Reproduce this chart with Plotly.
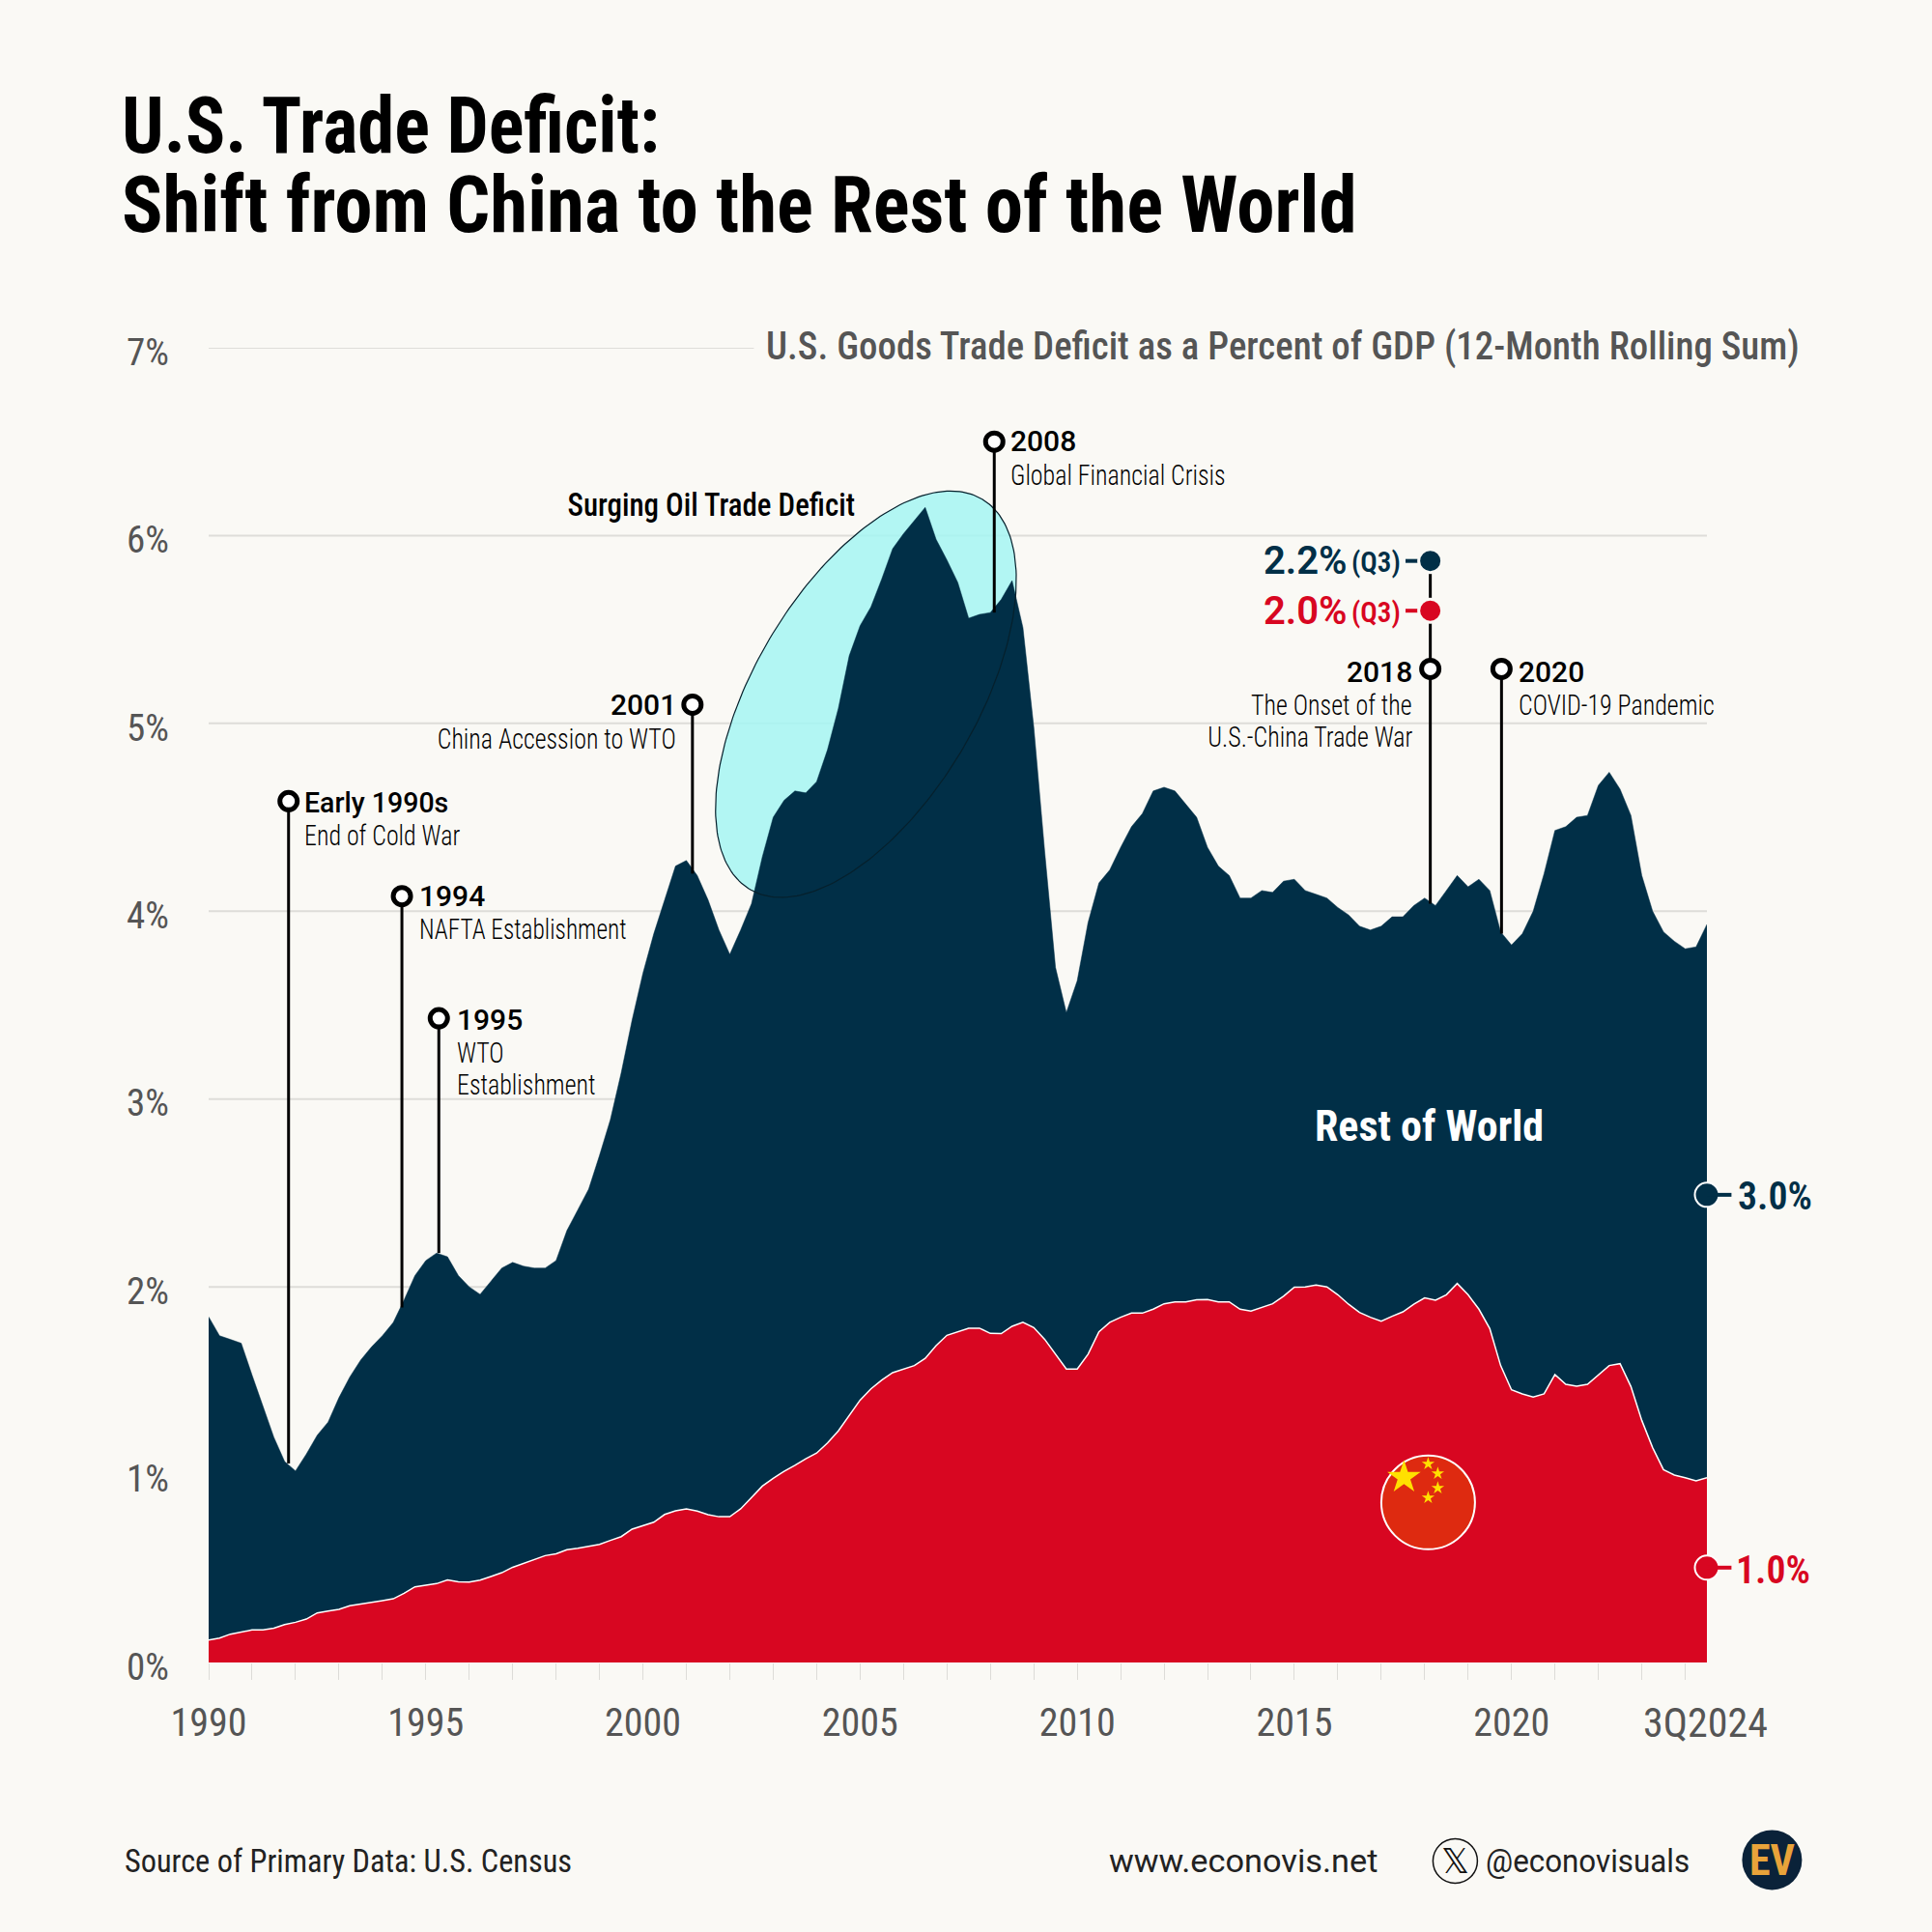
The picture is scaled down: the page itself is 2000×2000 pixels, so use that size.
import json
import numpy as np
import plotly.graph_objects as go

# ---------- data (quarterly, 1990 Q1 .. 2024 Q3, % of GDP) ----------
total = [1.84,1.74,1.72,1.70,1.53,1.37,1.20,1.07,1.02,1.11,1.21,1.28,1.41,1.52,1.61,1.68,
1.74,1.81,1.93,2.06,2.14,2.18,2.16,2.06,2.00,1.96,2.03,2.10,2.13,2.11,2.10,2.10,
2.14,2.30,2.41,2.52,2.70,2.89,3.14,3.42,3.67,3.88,4.06,4.24,4.27,4.19,4.06,3.90,
3.77,3.90,4.04,4.29,4.50,4.59,4.64,4.63,4.69,4.86,5.08,5.36,5.52,5.62,5.77,5.93,
6.01,6.08,6.15,5.98,5.87,5.75,5.56,5.58,5.59,5.66,5.76,5.51,4.98,4.32,3.70,3.46,
3.63,3.94,4.15,4.22,4.34,4.45,4.52,4.64,4.66,4.64,4.57,4.50,4.34,4.24,4.19,4.07,
4.07,4.11,4.10,4.16,4.17,4.11,4.09,4.07,4.02,3.98,3.92,3.90,3.92,3.97,3.97,4.03,
4.07,4.03,4.11,4.19,4.13,4.17,4.11,3.89,3.82,3.88,4.00,4.20,4.43,4.45,4.50,4.51,
4.67,4.74,4.65,4.51,4.19,4.00,3.89,3.84,3.80,3.81,3.93]
china = [0.120,0.130,0.151,0.161,0.173,0.173,0.183,0.202,0.214,0.231,0.264,0.274,0.283,0.302,0.310,0.319,
0.329,0.339,0.368,0.403,0.411,0.420,0.440,0.430,0.428,0.439,0.458,0.478,0.507,0.528,0.548,0.569,
0.579,0.600,0.608,0.619,0.629,0.650,0.670,0.710,0.727,0.747,0.788,0.807,0.818,0.806,0.787,0.776,
0.776,0.818,0.878,0.939,0.981,1.018,1.050,1.085,1.115,1.169,1.233,1.318,1.397,1.457,1.504,1.543,
1.562,1.581,1.619,1.687,1.742,1.759,1.780,1.780,1.752,1.751,1.790,1.811,1.783,1.721,1.641,1.562,
1.562,1.641,1.761,1.811,1.838,1.860,1.860,1.881,1.910,1.920,1.920,1.931,1.932,1.920,1.920,1.881,
1.871,1.889,1.910,1.950,1.998,2.000,2.010,2.000,1.958,1.907,1.864,1.838,1.817,1.843,1.867,1.907,
1.941,1.929,1.958,2.018,1.958,1.881,1.778,1.581,1.452,1.430,1.413,1.430,1.533,1.481,1.471,1.481,
1.533,1.581,1.591,1.469,1.289,1.144,1.027,0.998,0.984,0.967,0.984]
assert len(total) == len(china) == 139
quarters = [1990 + i * 0.25 for i in range(len(total))]

y_ticks = [0, 1, 2, 3, 4, 5, 6, 7]
y_tick_text = ["0%", "1%", "2%", "3%", "4%", "5%", "6%", "7%"]
x_tick_years = list(range(1990, 2025))
x_label_years = [1990, 1995, 2000, 2005, 2010, 2015, 2020]

event_years = [1991.84, 1994.45, 1995.30, 2001.14, 2008.09, 2018.13, 2019.77]
event_tops = [4.586, 4.08, 3.43, 5.10, 6.50, 5.29, 5.29]
event_bottoms = [1.06, 1.89, 2.18, 4.20, 5.59, 4.04, 3.88]

NAVY = "#012F47"; RED = "#D80621"; BG = "#FAF9F5"; GRID = "#DEDDD9"; GREY = "#555555"
COND = "Roboto Condensed"; WIDE = "Roboto"

# ---------- geometry (page px) ----------
W = H = 2000
L, R, T, B = 215.6, 1766.6, 360.0, 1720.6
def X(px): return 1990 + (px - L) / (R - L) * 34.5
def Y(py): return (B - py) / (B - T) * 7
def PX(px): return (px - L) / (R - L)
def PY(py): return (B - py) / (B - T)
S = 2000 / 1568

fig = go.Figure()

# ellipse (fill below areas, outline above)
cx, cy, a, b, th = 896, 718.5, 235, 115, np.radians(59.2)
t = np.linspace(0, 2 * np.pi, 240)
ex = cx + a * np.cos(t) * np.cos(th) - b * np.sin(t) * np.sin(th)
ey = cy - a * np.cos(t) * np.sin(th) - b * np.sin(t) * np.cos(th)
fig.add_trace(go.Scatter(x=X(ex), y=Y(ey), mode="lines", fill="toself",
                         fillcolor="rgba(165,246,242,0.85)", line=dict(width=0), hoverinfo="skip"))
fig.add_trace(go.Scatter(x=quarters, y=total, mode="lines", fill="tozeroy", fillcolor=NAVY,
                         line=dict(color=NAVY, width=0.5)))
fig.add_trace(go.Scatter(x=quarters, y=china, mode="lines", fill="tozeroy", fillcolor=RED,
                         line=dict(color="white", width=1.5)))
fig.add_trace(go.Scatter(x=X(ex), y=Y(ey), mode="lines", line=dict(color="#06202c", width=1.2), hoverinfo="skip"))

# event stems
for ex_, top, bot in zip(event_years, event_tops, event_bottoms):
    fig.add_trace(go.Scatter(x=[ex_, ex_], y=[bot, top], mode="lines", line=dict(color="black", width=3)))
fig.add_trace(go.Scatter(x=[event_years[5]] * 2, y=[5.29, 5.865], mode="lines", line=dict(color="black", width=3)))
fig.add_trace(go.Scatter(x=event_years, y=event_tops, mode="markers",
                         marker=dict(size=18, color="white", line=dict(color="black", width=5))))

# value dots
dot_x = [event_years[5], event_years[5]]
dot_y = [5.865, 5.60]
for xx, yy, c in zip(dot_x, dot_y, [NAVY, RED]):
    fig.add_trace(go.Scatter(x=[xx - 0.57, xx], y=[yy, yy], mode="lines", line=dict(color=c, width=4)))
    fig.add_trace(go.Scatter(x=[xx], y=[yy], mode="markers",
                             marker=dict(size=24, color=c, line=dict(color=BG, width=3))))
for yy, c in zip([2.49, 0.505], [NAVY, RED]):
    fig.add_shape(type="line", xref="paper", yref="paper", x0=1.0, x1=PX(1792), y0=yy / 7, y1=yy / 7,
                  line=dict(color=c, width=4))
    fig.add_trace(go.Scatter(x=[2024.5], y=[yy], mode="markers", cliponaxis=False,
                             marker=dict(size=25, color=c, line=dict(color="white", width=2))))

# flag
fig.add_trace(go.Scatter(x=[X(1478)], y=[Y(1555)], mode="markers",
                         marker=dict(size=97, color="#DE2A10", line=dict(color="white", width=2))))
fig.add_trace(go.Scatter(x=[X(1453)], y=[Y(1529)], mode="markers",
                         marker=dict(symbol="star", size=26, color="#FFE000", line=dict(width=0))))
fig.add_trace(go.Scatter(x=X(np.array([1478, 1488, 1488, 1478])), y=Y(np.array([1515, 1525, 1540, 1550])), mode="markers",
                         marker=dict(symbol="star", size=10, color="#FFE000", line=dict(width=0))))

# footer logos
def circle(cxp, cyp, r, **kw):
    fig.add_shape(type="circle", xref="paper", yref="paper", x0=PX(cxp - r), x1=PX(cxp + r),
                  y0=PY(cyp + r), y1=PY(cyp - r), **kw)
circle(1506, 1926, 23, fillcolor=BG, line=dict(color="#111111", width=1.5))
circle(1834, 1925, 31, fillcolor="#0A2239", line=dict(width=0))

# ---------- text ----------
squeeze = []
def txt(s, x, y, size, color="black", anchor="left", family=COND, weight=400, sx=1.0):
    squeeze.append(sx)
    fig.add_annotation(text=s, x=PX(x * S), y=PY(y * S), xref="paper", yref="paper",
                       xanchor=anchor, yanchor="middle", showarrow=False, align=anchor,
                       font=dict(size=size, color=color, family=family, weight=weight), borderpad=0)

txt("U.S. Trade Deficit:", 98, 102, 81, weight=700, sx=0.945)
txt("Shift from China to the Rest of the World", 98, 167, 81, weight=700, sx=0.975)
txt("U.S. Goods Trade Deficit as a Percent of GDP (12-Month Rolling Sum)", 621, 281, 40, color=GREY, weight=500, sx=0.972)

head = dict(size=30, family=WIDE, weight=500)
sub = dict(size=30, weight=300, sx=0.865)
txt("Early 1990s", 246, 651, size=30, family=WIDE, weight=500, sx=0.95); txt("End of Cold War", 246, 678, **sub)
txt("1994", 339, 727, **head); txt("NAFTA Establishment", 339, 754, size=30, weight=300, sx=0.845)
txt("1995", 370, 827, **head); txt("WTO", 370, 854, **sub); txt("Establishment", 370, 880, **sub)
txt("2001", 549, 572, anchor="right", **head); txt("China Accession to WTO", 549, 599, anchor="right", **sub)
txt("2008", 819, 358, **head); txt("Global Financial Crisis", 819, 385, **sub)
txt("2018", 1147, 545, anchor="right", **head); txt("The Onset of the", 1147, 572, anchor="right", **sub)
txt("U.S.-China Trade War", 1147, 598, anchor="right", **sub)
txt("2020", 1231, 545, **head); txt("COVID-19 Pandemic", 1231, 572, **sub)
txt("Surging Oil Trade Deficit", 694, 409, 34, anchor="right", weight=500, sx=0.91)

txt("2.2%", 1094, 455, 40, NAVY, "right", WIDE, 600)
txt("(Q3)", 1137, 456, 29, NAVY, "right", COND, 600)
txt("2.0%", 1094, 496, 40, RED, "right", WIDE, 600)
txt("(Q3)", 1137, 497, 29, RED, "right", COND, 600)
txt("3.0%", 1409, 971, 40, NAVY, "left", COND, 600)
txt("1.0%", 1408, 1274, 40, RED, "left", COND, 600)
txt("Rest of World", 1160, 914, 44, "white", "center", COND, 700)
txt("3Q2024", 1384, 1398, 42, GREY, "center")

txt("Source of Primary Data: U.S. Census", 100, 1510, 33, "#222222", sx=0.98)
txt("www.econovis.net", 899, 1510, 33, "#222222", family=WIDE, sx=1.04)
txt("@econovisuals", 1205, 1510, 33, "#222222", family=WIDE, sx=0.95)
txt("𝕏", 1181, 1510, 36, "#111111", "center", "DejaVu Sans")
txt("EV", 1438, 1510, 44, "#E8A33A", "center", COND, 700)

# gridlines
for v in y_ticks[1:]:
    x1 = 2024.5 if v < 7 else X(780)
    fig.add_shape(type="line", x0=1990, x1=x1, y0=v, y1=v, layer="below", line=dict(color=GRID, width=2))

fig.update_layout(
    width=W, height=H, autosize=False, showlegend=False, hovermode=False,
    paper_bgcolor=BG, plot_bgcolor=BG,
    margin=dict(l=L, r=W - R, t=T, b=H - B, pad=0),
    xaxis=dict(range=[1990, 2024.5], tickmode="array", tickvals=x_tick_years,
               ticktext=[str(v) if v in x_label_years else "" for v in x_tick_years],
               ticks="outside", ticklen=17, tickwidth=1, tickcolor="#DDDCD8", showgrid=False, zeroline=False,
               showline=False, tickfont=dict(family=COND, size=40, color=GREY), ticklabelstandoff=10),
    yaxis=dict(range=[0, 7], tickmode="array", tickvals=y_ticks, ticktext=y_tick_text, ticks="",
               showgrid=False, zeroline=False, showline=False,
               tickfont=dict(family=COND, size=39, color=GREY), ticklabelstandoff=40, ticklabelshift=4),
)
post = """
document.body.style.margin='0';
var sq = %s;
document.querySelectorAll('g.annotation').forEach(function(g){
  var i = +g.getAttribute('data-index'), s = sq[i];
  var t = g.querySelector('text');
  if (t && s && s !== 1) {
    var x = parseFloat(t.getAttribute('x')) || 0;
    t.setAttribute('transform', 'translate(' + (x * (1 - s)) + ',0) scale(' + s + ',1)');
  }
});
""" % json.dumps(squeeze)
fig.write_html("out.html", post_script=post, config=dict(displayModeBar=False))
